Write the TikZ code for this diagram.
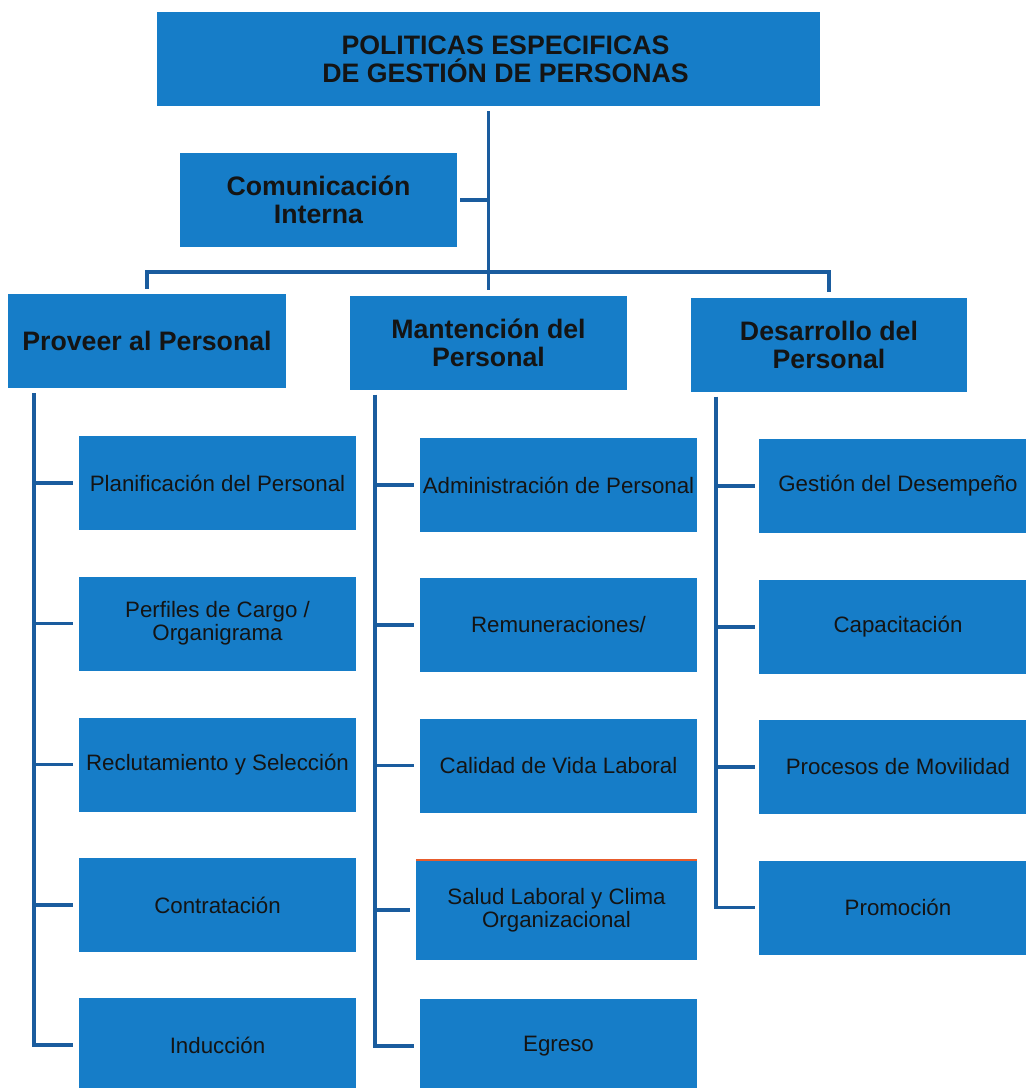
\documentclass[tikz,border=0pt]{standalone}
\usepackage{fontspec}
\setmainfont{Liberation Sans}
\definecolor{azulcaja}{RGB}{22,125,200}
\definecolor{azullinea}{RGB}{26,92,158}
\definecolor{naranja}{RGB}{232,92,44}
\tikzset{
  caja/.style={fill=azulcaja, minimum width=277pt, minimum height=94pt,
    inner sep=0pt, align=center, text=black!92, font=\fontsize{22.3}{22.8}\selectfont},
  jefe/.style={caja, font=\bfseries\fontsize{26.7}{28}\selectfont},
  enlace/.style={draw=azullinea, line width=3.5pt},
}
\begin{document}
\begin{tikzpicture}[x=1pt, y=-1pt]
 \clip (0,0) rectangle (1026,1088);
 % cabeza y areas
 \node[jefe, minimum width=663pt] (top) at (488.5,59) {};
 \node[jefe, fill=none] (toptxt) at ([xshift=17pt]top.center) {POLITICAS ESPECIFICAS\\DE GESTIÓN DE PERSONAS};
 \node[jefe] (com) at (318.5,200) {Comunicación\\Interna};
 \node[jefe, minimum width=278pt] (prov) at (147,341) {Proveer al Personal};
 \node[jefe] (mant) at (488.5,342.5) {Mantención del\\Personal};
 \node[jefe, minimum width=276pt] (desa) at (829,344.5) {Desarrollo del\\Personal};
 % hijos
 \node[caja] (l1) at (217.5,483) {Planificación del Personal};
 \node[caja] (l2) at (217.5,623.5) {Perfiles de Cargo /\\Organigrama};
 \node[caja] (l3) at (217.5,764.5) {Reclutamiento y Selección};
 \node[caja] (l4) at (217.5,905) {Contratación};
 \node[caja] (l5) at (217.5,1045) {Inducción};
 \node[caja] (m1) at (558.5,485) {Administración de Personal};
 \node[caja] (m2) at (558.5,625) {Remuneraciones/};
 \node[caja] (m3) at (558.5,765.5) {Calidad de Vida Laboral};
 \node[caja, minimum width=281pt, minimum height=100pt] (m4) at (556.5,910) {Salud Laboral y Clima\\Organizacional};
 \node[caja] (m5) at (558.5,1046) {Egreso};
 \node[caja, minimum width=278pt] (r1) at (898,486) {Gestión del Desempeño};
 \node[caja, minimum width=278pt] (r2) at (898,627) {Capacitación};
 \node[caja, minimum width=278pt] (r3) at (898,767) {Procesos de Movilidad};
 \node[caja, minimum width=278pt] (r4) at (898,907.5) {Promoción};
 \draw[naranja, line width=2pt] (m4.north west) -- (m4.north east);
 % conectores
 \coordinate (barra) at (0,272);
 \draw[enlace, shorten <=5pt] (top.south) -- (top.south |- barra);
 \draw[enlace, shorten <=3pt] (com.east) -- (com.east -| top.south);
 \draw[enlace, shorten <=5pt, shorten >=5pt] (prov.north) -- (prov.north |- barra) -- (desa.north |- barra) -- (desa.north);
 \draw[enlace, shorten >=5pt] (top.south |- barra) -- (mant.north);
 \coordinate (tl) at (34,0);
 \coordinate (tm) at (375,0);
 \coordinate (tr) at (716,0);
 \draw[enlace, shorten <=5pt, shorten >=6pt] (prov.south -| tl) -- (l5.west -| tl) -- (l5.west);
 \draw[enlace, shorten <=5pt, shorten >=6pt] (mant.south -| tm) -- (m5.west -| tm) -- (m5.west);
 \draw[enlace, shorten <=5pt, shorten >=4pt] (desa.south -| tr) -- (r4.west -| tr) -- (r4.west);
 \foreach \n in {l1,l2,l3,l4}
  \draw[enlace, shorten >=6pt] (\n.west -| tl) -- (\n.west);
 \foreach \n in {m1,m2,m3,m4}
  \draw[enlace, shorten >=6pt] (\n.west -| tm) -- (\n.west);
 \foreach \n in {r1,r2,r3}
  \draw[enlace, shorten >=4pt] (\n.west -| tr) -- (\n.west);
\end{tikzpicture}
\end{document}
